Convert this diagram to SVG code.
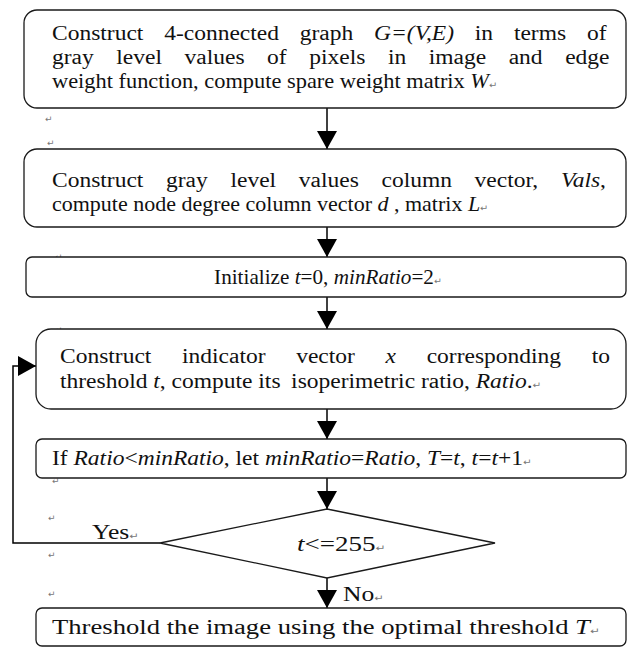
<svg xmlns="http://www.w3.org/2000/svg" width="629" height="647" viewBox="0 0 629 647">
<defs>
<style>
.box{fill:#fff;stroke:#1a1a1a;stroke-width:1.3}
.t{font-family:"Liberation Serif","Times New Roman",serif;font-size:20px;fill:#111}
.i{font-style:italic}
.pm{font-family:"DejaVu Sans",sans-serif;font-size:9px;fill:#777;font-style:normal}
.c{fill:none;stroke:#000;stroke-width:1.5}
</style>
<marker id="ah" markerUnits="userSpaceOnUse" markerWidth="18" markerHeight="20" viewBox="0 0 18 20" refX="18" refY="10" orient="auto">
<path d="M0,0 L18,10 L0,20 z" fill="#000"/>
</marker>
</defs>
<rect width="629" height="647" fill="#fff"/>
<g id="marks">
<text class="pm" x="45" y="122">↵</text>
<text class="pm" x="47" y="146">↵</text>
<text class="pm" x="55" y="260">↵</text>
<text class="pm" x="55" y="333">↵</text>
<text class="pm" x="52" y="484">↵</text>
<text class="pm" x="48" y="521">↵</text>
<text class="pm" x="48" y="558">↵</text>
<text class="pm" x="48" y="597">↵</text>
</g>
<g id="connectors">
<line class="c" x1="327" y1="108" x2="327" y2="149" marker-end="url(#ah)"/>
<line class="c" x1="327" y1="227" x2="327" y2="257" marker-end="url(#ah)"/>
<line class="c" x1="327" y1="297" x2="327" y2="329" marker-end="url(#ah)"/>
<line class="c" x1="327" y1="409" x2="327" y2="439" marker-end="url(#ah)"/>
<line class="c" x1="327" y1="478" x2="327" y2="509" marker-end="url(#ah)"/>
<line class="c" x1="327" y1="578" x2="327" y2="608" marker-end="url(#ah)"/>
<path class="c" d="M160,543 H13 V366 H36" marker-end="url(#ah)"/>
</g>
<g id="n1">
<rect class="box" x="24" y="10" width="602" height="98" rx="13"/>
<text class="t" transform="matrix(1.175 0 0 1 52 40)" style="word-spacing:12.7px">Construct 4-connected graph <tspan class="i">G=(V,E)</tspan> in terms of</text>
<text class="t" transform="matrix(1.175 0 0 1 52 64)" style="word-spacing:14.2px">gray level values of pixels in image and edge</text>
<text class="t" transform="matrix(1.12 0 0 1 52 88)">weight function, compute spare weight matrix <tspan class="i">W</tspan><tspan class="pm">↵</tspan></text>
</g>
<g id="n2">
<rect class="box" x="24" y="149" width="602" height="78" rx="13"/>
<text class="t" transform="matrix(1.175 0 0 1 52 187)" style="word-spacing:14.3px">Construct gray level values column vector, <tspan class="i">Vals</tspan>,</text>
<text class="t" transform="matrix(1.1 0 0 1 52 211)">compute node degree column vector <tspan class="i">d</tspan> , matrix <tspan class="i">L</tspan><tspan class="pm">↵</tspan></text>
</g>
<g id="n3">
<rect class="box" x="26" y="257" width="600" height="40" rx="6"/>
<text class="t" transform="matrix(1.06 0 0 1 328 284)" text-anchor="middle">Initialize <tspan class="i">t</tspan>=0, <tspan class="i">minRatio</tspan>=2<tspan class="pm">↵</tspan></text>
</g>
<g id="n4">
<rect class="box" x="36" y="329" width="590" height="80" rx="15"/>
<text class="t" transform="matrix(1.175 0 0 1 60 363)" style="word-spacing:21.1px">Construct indicator vector <tspan class="i">x</tspan> corresponding to</text>
<text class="t" transform="matrix(1.175 0 0 1 60 388)">threshold <tspan class="i">t</tspan>, compute its <tspan dx="4">isoperimetric</tspan> ratio, <tspan class="i">Ratio</tspan>.<tspan class="pm">↵</tspan></text>
</g>
<g id="n5">
<rect class="box" x="36" y="439" width="590" height="39" rx="6"/>
<text class="t" transform="matrix(1.175 0 0 1 52 465)">If <tspan class="i">Ratio</tspan>&lt;<tspan class="i">minRatio</tspan>, let <tspan class="i">minRatio</tspan>=<tspan class="i">Ratio</tspan>, <tspan class="i">T</tspan>=<tspan class="i">t</tspan>, <tspan class="i">t</tspan>=<tspan class="i">t</tspan>+1<tspan class="pm">↵</tspan></text>
</g>
<g id="n6">
<polygon class="box" points="327,509 495,543 327,578 160,543"/>
<text class="t" transform="matrix(1.35 0 0 1 297 551)"><tspan class="i">t</tspan>&lt;=255<tspan class="pm">↵</tspan></text>
</g>
<g id="labels">
<text class="t" transform="matrix(1.28 0 0 1 92 539)">Yes<tspan class="pm">↵</tspan></text>
<text class="t" transform="matrix(1.28 0 0 1 343 601)">No<tspan class="pm">↵</tspan></text>
</g>
<g id="n7">
<rect class="box" x="36" y="608" width="590" height="38" rx="6"/>
<text class="t" x="52" y="634" textLength="548" lengthAdjust="spacingAndGlyphs">Threshold the image using the optimal threshold <tspan class="i">T</tspan><tspan class="pm">↵</tspan></text>
</g>
</svg>
